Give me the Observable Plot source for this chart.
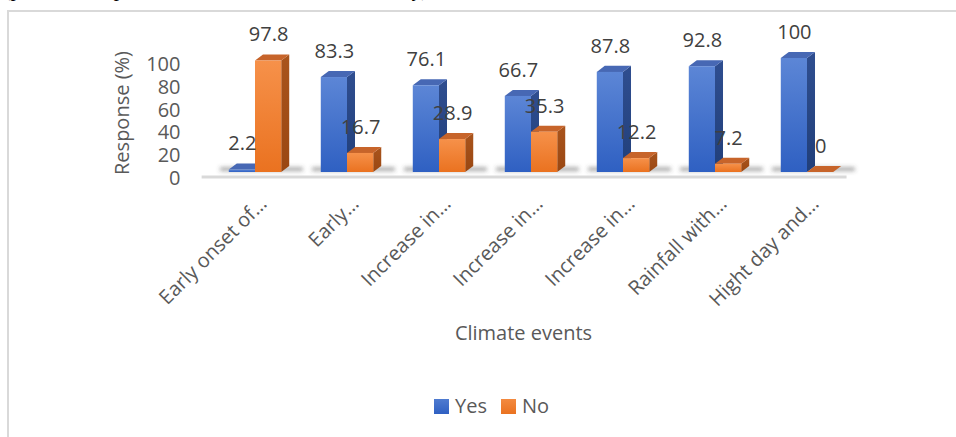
<!DOCTYPE html>
<html>
<head>
<meta charset="utf-8">
<script src="https://cdn.jsdelivr.net/npm/d3@7"></script>
<script src="https://cdn.jsdelivr.net/npm/@observablehq/plot@0.6"></script>
<style>
  html, body { margin: 0; padding: 0; background: #fff; width: 956px; height: 437px; overflow: hidden; }
  #wrap { position: relative; width: 956px; height: 437px; font-family: "Open Sans", sans-serif; }
  #frame { position: absolute; left: 7px; top: 10px; width: 1000px; height: 1000px; border: 2px solid #d9d9d9; box-sizing: border-box; }
  #note { position: absolute; left: 5px; top: -21px; font: italic 21px "Liberation Serif", serif; line-height: 21px; color: #000; white-space: nowrap; }
  #chart { position: absolute; left: 0; top: 0; }
  .key { position: absolute; top: 396px; font-size: 20px; line-height: 20px; color: #595959; }
  .sw { position: absolute; top: 399px; width: 15px; height: 15px; }
</style>
</head>
<body>
<svg width="0" height="0" style="position:absolute">
  <defs>
    <linearGradient id="gYes" x1="0" y1="0" x2="0" y2="1">
      <stop offset="0" stop-color="#5c86d6"/>
      <stop offset="1" stop-color="#2f60c2"/>
    </linearGradient>
    <linearGradient id="gYesSide" x1="0" y1="0" x2="0" y2="1">
      <stop offset="0" stop-color="#2f4e90"/>
      <stop offset="1" stop-color="#213f7a"/>
    </linearGradient>
    <linearGradient id="gNo" x1="0" y1="0" x2="0" y2="1">
      <stop offset="0" stop-color="#f6914a"/>
      <stop offset="1" stop-color="#ea7220"/>
    </linearGradient>
    <linearGradient id="gNoSide" x1="0" y1="0" x2="0" y2="1">
      <stop offset="0" stop-color="#a9541c"/>
      <stop offset="1" stop-color="#9a4712"/>
    </linearGradient>
    <filter id="soft" x="-20%" y="-200%" width="140%" height="500%">
      <feGaussianBlur stdDeviation="2.2"/>
    </filter>
  </defs>
</svg>
<div id="wrap">
  <div id="frame"></div>
  <div id="note">(p-value computed at 5% level, in the total survey)</div>
  <div id="chart"></div>
  <div class="sw" style="left:434px;background:linear-gradient(#4f7bd0,#2f60c2)"></div>
  <div class="key" style="left:455px">Yes</div>
  <div class="sw" style="left:501px;background:linear-gradient(#f38a40,#ea7220)"></div>
  <div class="key" style="left:522px">No</div>
</div>
<script>
// Climate events reported by respondents (%)
const events = [
  "Early onset of…",
  "Early…",
  "Increase in…",
  "Increase in…",
  "Increase in…",
  "Rainfall with…",
  "Hight day and…"
];
const yes = [2.2, 83.3, 76.1, 66.7, 87.8, 92.8, 100];
const no = [97.8, 16.7, 28.9, 35.3, 12.2, 7.2, 0];
const yTicks = [0, 20, 40, 60, 80, 100];

// bar geometry in scale units: front width, and the depth offset of the 3D faces
const W = 0.285, DX = 0.087, DY = 5.3;

const bars = events.flatMap((e, i) => [
  {id: "y" + i, s: "Yes", x1: i - W, x2: i, v: yes[i]},
  {id: "n" + i, s: "No", x1: i, x2: i + W, v: no[i]}
]);
const sideOf = (b) => [
  {id: b.id, x: b.x2, y1: 0, y2: b.v},
  {id: b.id, x: b.x2 + DX, y1: DY, y2: b.v + DY}
];
const topOf = (b) => [
  {id: b.id, y: b.v, x1: b.x1, x2: b.x2},
  {id: b.id, y: b.v + DY, x1: b.x1 + DX, x2: b.x2 + DX}
];

const style = {
  Yes: {front: "url(#gYes)", side: "url(#gYesSide)", top: "#4768b4"},
  No: {front: "url(#gNo)", side: "url(#gNoSide)", top: "#c7642a"}
};

const barMarks = (s) => {
  const sub = bars.filter((b) => b.s === s);
  return [
    Plot.areaY(sub.flatMap(sideOf), {x: "x", y1: "y1", y2: "y2", z: "id", fill: style[s].side}),
    Plot.areaX(sub.flatMap(topOf), {y: "y", x1: "x1", x2: "x2", z: "id", fill: style[s].top}),
    Plot.rect(sub, {x1: "x1", x2: "x2", y1: () => 0, y2: "v", fill: style[s].front})
  ];
};

const SHADOW = "#4a4a4a";

const chart = Plot.plot({
  width: 956,
  height: 437,
  marginLeft: 183,
  marginRight: 93,
  marginTop: 50,
  marginBottom: 262,
  style: {fontFamily: "'Open Sans', sans-serif", fontSize: "20px", color: "#595959", background: "transparent", overflow: "visible"},
  x: {type: "linear", domain: [0, 6], range: [255, 807], axis: null},
  y: {domain: [0, 100], range: [172, 58], axis: null},
  marks: [
    Plot.ruleY([0], {x1: -0.58, x2: 6.43, dy: 4.5, stroke: "#d9d9d9", strokeWidth: 3}),
    Plot.rect(events, {x1: (d, i) => i - 0.38, x2: (d, i) => i + 0.52, y1: () => 1, y2: () => 4, fill: SHADOW, fillOpacity: 0.55}),
    ...barMarks("Yes"),
    ...barMarks("No"),
    Plot.axisY({ticks: yTicks, tickSize: 0, tickPadding: 3, dy: 6, fontSize: 20, label: null, fill: "#595959"}),
    Plot.text(["Response (%)"], {frameAnchor: "left", textAnchor: "middle", lineAnchor: "middle", rotate: -90, dx: -61, fontSize: 20, fill: "#595959"}),
    Plot.text(bars, {x: (b) => (b.x1 + b.x2) / 2, y: "v", text: (b) => String(b.v), dy: -26, fontSize: 20, fill: "#404040"}),
    Plot.text(events, {x: (d, i) => i, y: () => 0, text: (d) => d, rotate: -45, textAnchor: "end", dx: 8, dy: 28, fontSize: 20, fill: "#595959"}),
    Plot.text(["Climate events"], {frameAnchor: "bottom", lineAnchor: "middle", dy: 158, fontSize: 20, fill: "#595959"})
  ]
});
// soften the floor shadows under each group
chart.querySelectorAll(`[fill="${SHADOW}"]`).forEach((el) => el.setAttribute("filter", "url(#soft)"));
document.getElementById("chart").append(chart);
</script>
</body>
</html>
